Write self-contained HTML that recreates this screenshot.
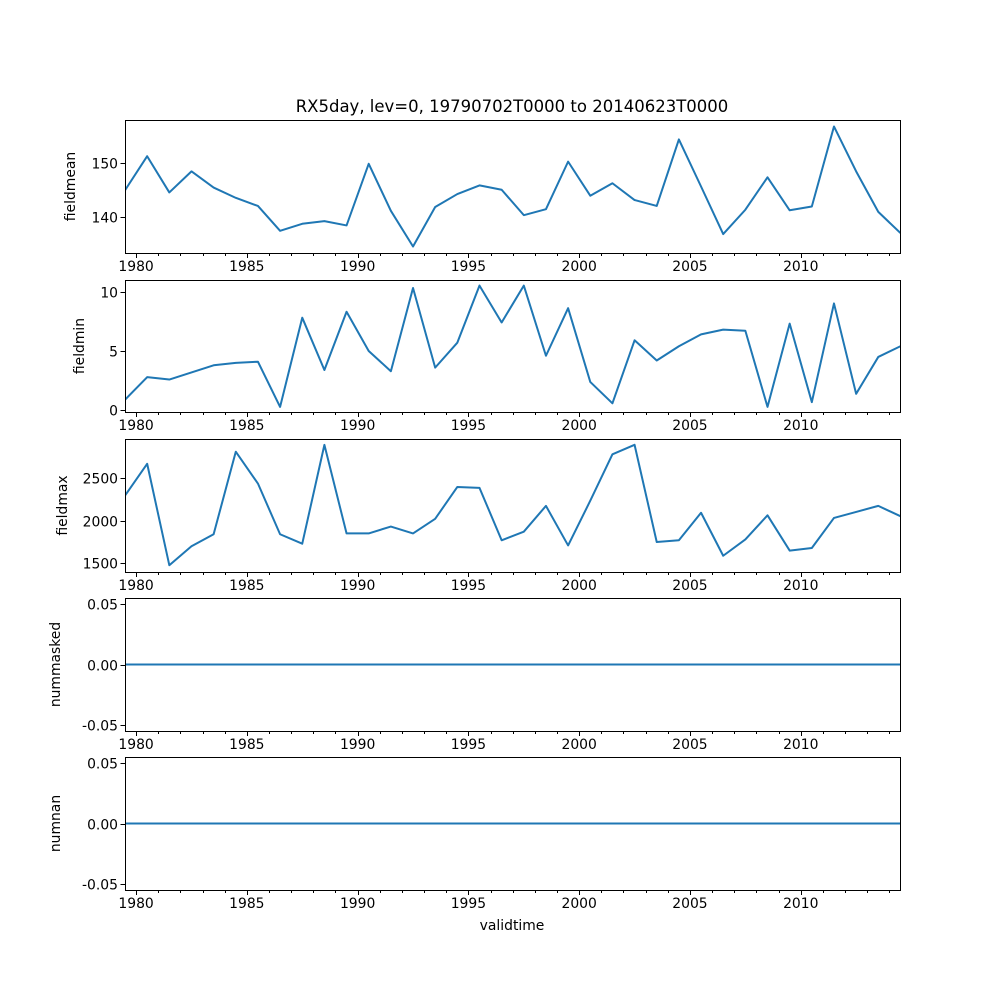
<!DOCTYPE html>
<html><head><meta charset="utf-8"><style>
body{margin:0;background:#fff}
svg text{font-family:"DejaVu Sans","Liberation Sans",sans-serif;fill:#000}
</style></head><body>
<svg id="fig" width="1000" height="1000" xmlns="http://www.w3.org/2000/svg">
<text x="512" y="112" font-size="16.5" text-anchor="middle">RX5day, lev=0, 19790702T0000 to 20140623T0000</text>
<text x="512" y="930" font-size="13.9" text-anchor="middle">validtime</text>
</svg>
<script>
const years = [1979,1980,1981,1982,1983,1984,1985,1986,1987,1988,1989,1990,1991,1992,1993,1994,1995,1996,1997,1998,1999,2000,2001,2002,2003,2004,2005,2006,2007,2008,2009,2010,2011,2012,2013,2014];
const fieldmean = [145,151.3,144.6,148.5,145.5,143.6,142.1,137.5,138.8,139.3,138.5,149.9,141.2,134.6,141.9,144.3,145.9,145.1,140.4,141.5,150.3,144.0,146.3,143.2,142.1,154.4,145.7,136.9,141.4,147.4,141.3,142.0,156.8,148.5,141.0,137.1];
const fieldmin = [0.9,2.8,2.6,3.2,3.8,4.0,4.1,0.3,7.8,3.4,8.3,5.0,3.3,10.3,3.6,5.7,10.5,7.4,10.5,4.6,8.6,2.4,0.6,5.9,4.2,5.4,6.4,6.8,6.7,0.3,7.3,0.7,9.0,1.4,4.5,5.4];
const fieldmax = [2290,2660,1480,1700,1840,2800,2430,1840,1730,2880,1850,1850,1930,1850,2020,2390,2380,1770,1870,2170,1710,2230,2770,2880,1750,1770,2090,1590,1780,2060,1650,1680,2030,2100,2170,2050];
const nummasked = years.map(()=>0);
const numnan = years.map(()=>0);
const xTickLabels = ["1980","1985","1990","1995","2000","2005","2010"];
const meanTicks = [140,150];
const minTicks = [0,5,10];
const maxTicks = [1500,2000,2500];
const zeroTicks = [-0.05,0.00,0.05];

const NS="http://www.w3.org/2000/svg";
const svg=document.getElementById('fig');
const L=125,R=900,X0=1979.5,X1=2014.48;
const xs=v=>L+(v-X0)/(X1-X0)*(R-L);
function mk(t,a,p){const e=document.createElementNS(NS,t);for(const k in a)e.setAttribute(k,a[k]);(p||svg).appendChild(e);return e;}
const panels=[
 {name:'fieldmean',data:fieldmean,top:120,bot:253,ymin:133.4,ymax:158.0,ticks:meanTicks,fmt:v=>String(v),lx:75},
 {name:'fieldmin',data:fieldmin,top:280,bot:412,ymin:-0.13,ymax:10.97,ticks:minTicks,fmt:v=>String(v),lx:84},
 {name:'fieldmax',data:fieldmax,top:439,bot:572,ymin:1401,ymax:2948,ticks:maxTicks,fmt:v=>String(v),lx:67},
 {name:'nummasked',data:nummasked,top:598,bot:731,ymin:-0.055,ymax:0.055,ticks:zeroTicks,fmt:v=>v.toFixed(2),lx:60},
 {name:'numnan',data:numnan,top:757,bot:890,ymin:-0.055,ymax:0.055,ticks:zeroTicks,fmt:v=>v.toFixed(2),lx:60}
];
panels.forEach((p,pi)=>{
 const g=mk('g',{});
 
 
 const ys=v=>p.bot-(v-p.ymin)/(p.ymax-p.ymin)*(p.bot-p.top);
 const cid='c'+pi;
 const cp=mk('clipPath',{id:cid},g);mk('rect',{x:L,y:p.top,width:R-L,height:p.bot-p.top},cp);
 const pts=p.data.map((v,i)=>xs(years[i]+0.5)+','+ys(v)).join(' ');
 const line=mk('polyline',{points:pts,fill:'none',stroke:'#1f77b4','stroke-width':2,'stroke-linejoin':'round','clip-path':'url(#'+cid+')'},g);
 
 
 const fr=mk('rect',{x:L+0.5,y:p.top+0.5,width:R-L,height:p.bot-p.top,fill:'none',stroke:'#000','stroke-width':1},g);
 
 
 for(let y=1980;y<=2014;y++){const x=Math.round(xs(y))+0.5;const major=(y%5===0);mk('line',{x1:x,x2:x,y1:p.bot,y2:p.bot+(major?5:3),stroke:'#000','stroke-width':1},g);}
 xTickLabels.forEach(s=>{const t=mk('text',{x:xs(+s),y:p.bot+18,'font-size':13.9,'text-anchor':'middle'},g);t.textContent=s;
  
  });
 p.ticks.forEach(v=>{const y=Math.round(ys(v))+0.5;mk('line',{x1:L-4.5,x2:L,y1:y,y2:y,stroke:'#000','stroke-width':1},g);
  const t=mk('text',{x:L-7,y:y+5,'font-size':13.9,'text-anchor':'end'},g);t.textContent=p.fmt(v);
  
  });
 const yl=mk('text',{x:p.lx,y:(p.top+p.bot)/2,'font-size':13.9,'text-anchor':'middle',transform:'rotate(-90 '+p.lx+' '+(p.top+p.bot)/2+')'},g);
 yl.textContent=p.name;
 
 
});
</script>
</body></html>
